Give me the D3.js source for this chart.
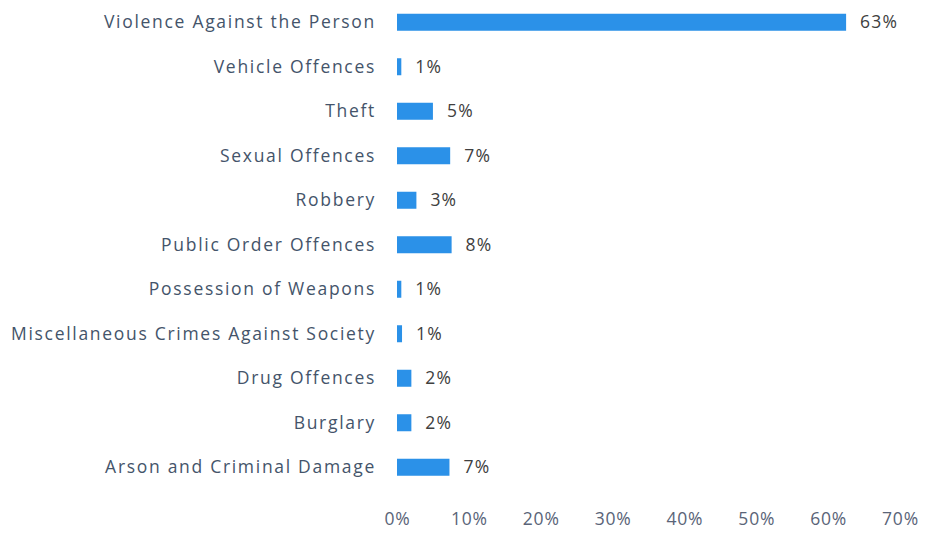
<!DOCTYPE html>
<html>
<head>
<meta charset="utf-8">
<script src="https://cdn.jsdelivr.net/npm/d3@7"></script>
<style>
  body { margin: 0; background: #fff; }
  text { font-family: "Open Sans", sans-serif; }
  .cat { fill: #44546a; font-size: 17.5px; letter-spacing: 1.7px; }
  .val { fill: #404040; font-size: 17.5px; letter-spacing: 1.2px; }
  .axis-x text { fill: #5a6478; font-size: 17.5px; letter-spacing: 0.8px; }
</style>
</head>
<body>
<svg id="chart"></svg>
<script>
//data
var categories = ['Violence Against the Person', 'Vehicle Offences', 'Theft', 'Sexual Offences',
    'Robbery', 'Public Order Offences', 'Possession of Weapons',
    'Miscellaneous Crimes Against Society', 'Drug Offences', 'Burglary', 'Arson and Criminal Damage'];
var shares = [0.625, 0.006, 0.050, 0.074, 0.027, 0.076, 0.006, 0.007, 0.020, 0.020, 0.073];
var ticks = [0, 0.1, 0.2, 0.3, 0.4, 0.5, 0.6, 0.7];

//chart parameters
var svg = d3.select('#chart')
    .attr('width', 925)
    .attr('height', 534);

//define scales
var xScale = d3.scaleLinear().domain([0, 0.7]).range([397, 900]),
    yScale = d3.scaleBand().domain(categories).range([0, 489.5]);

var barH = 17;

//bars
svg.selectAll('.bar').data(categories)
    .enter().append('rect')
        .attr('class', 'bar')
        .attr('x', xScale(0))
        .attr('y', d => yScale(d) + yScale.bandwidth() / 2 - barH / 2)
        .attr('width', (d, i) => xScale(shares[i]) - xScale(0))
        .attr('height', barH)
        .style('fill', '#2b91e8');

//category labels
svg.selectAll('.cat').data(categories)
    .enter().append('text')
        .attr('class', 'cat')
        .attr('x', 376)
        .attr('y', d => yScale(d) + yScale.bandwidth() / 2)
        .attr('dy', '0.35em')
        .attr('text-anchor', 'end')
        .text(d => d);

//value labels
svg.selectAll('.val').data(categories)
    .enter().append('text')
        .attr('class', 'val')
        .attr('x', (d, i) => xScale(shares[i]) + 14)
        .attr('y', d => yScale(d) + yScale.bandwidth() / 2)
        .attr('dy', '0.35em')
        .text((d, i) => d3.format('.0%')(shares[i]));

//x axis
svg.append('g')
    .attr('class', 'axis-x')
    .attr('transform', 'translate(0,510)')
    .call(d3.axisBottom(xScale).tickValues(ticks).tickSize(0).tickFormat(d3.format('.0%')))
    .call(g => g.select('.domain').remove());
</script>
</body>
</html>
